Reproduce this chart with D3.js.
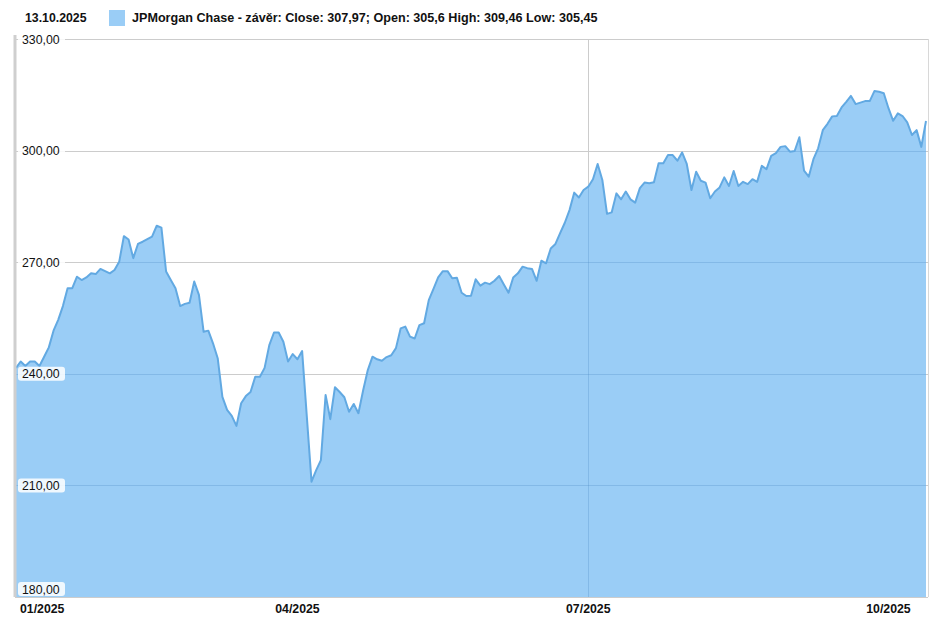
<!DOCTYPE html>
<html>
<head>
<meta charset="utf-8">
<script src="https://cdn.jsdelivr.net/npm/d3@7"></script>
<style>
  html, body { margin: 0; padding: 0; background: #fff; }
  svg { display: block; }
  text { font-family: Arial, "Liberation Sans", sans-serif; }
</style>
</head>
<body>
<svg id="chart" width="936" height="618"></svg>
<script>
// ---- data (JPMorgan Chase daily close, 2 Jan 2025 - 13 Oct 2025) ----
const closeValues = [
  241.6, 243.3, 242.1, 243.3, 243.3, 242.1, 244.6, 247.1, 251.6, 254.5,
  258.2, 263.0, 263.0, 266.1, 265.2, 265.9, 267.0, 266.8, 268.2, 267.6,
  267.0, 267.9, 270.1, 277.0, 276.1, 271.1, 274.9, 275.5, 276.2, 276.9,
  279.8, 279.3, 267.5, 265.2, 263.0, 258.2, 258.8, 259.1, 264.8, 261.2,
  251.3, 251.6, 248.2, 244.2, 233.8, 230.3, 228.7, 226.0, 232.1, 234.0,
  235.1, 239.2, 239.2, 241.6, 247.7, 251.1, 251.1, 248.6, 243.3, 245.3,
  243.9, 246.1, 228.5, 211.0, 214.1, 216.8, 234.3, 227.8, 236.4, 235.1,
  233.7, 229.8, 231.9, 229.4, 235.5, 241.0, 244.6, 243.9, 243.5, 244.5,
  245.0, 246.9, 252.2, 252.7, 250.0, 249.5, 253.1, 253.6, 259.8, 262.8,
  265.9, 267.6, 267.6, 265.7, 265.8, 261.8, 260.9, 261.0, 265.4, 263.7,
  264.5, 264.1, 265.0, 266.3, 264.0, 261.8, 265.9, 267.0, 268.8, 268.4,
  268.2, 265.0, 270.4, 269.7, 273.7, 274.9, 277.8, 280.6, 284.0, 288.7,
  287.4, 289.4, 290.3, 292.3, 296.4, 292.1, 283.0, 283.4, 288.5, 286.9,
  289.0, 286.9, 286.0, 289.9, 291.4, 291.2, 291.5, 296.6, 296.6, 298.8,
  298.8, 297.3, 299.5, 296.4, 289.4, 294.3, 291.9, 291.4, 287.2, 289.0,
  290.1, 292.8, 290.5, 294.5, 290.5, 291.6, 291.0, 292.3, 291.6, 295.9,
  295.0, 298.6, 299.3, 301.0, 301.2, 299.7, 299.9, 303.6, 294.6, 293.0,
  297.7, 300.6, 305.5, 307.2, 309.2, 309.3, 311.6, 313.1, 314.7, 312.5,
  312.9, 313.3, 313.3, 316.0, 315.8, 315.4, 311.4, 308.0, 310.0, 309.3,
  307.6, 304.2, 305.5, 301.0, 307.97
];
const yTickValues = [180, 210, 240, 270, 300, 330];
const xTickIndex  = [0, 60, 122, 186];            // first trading day of each quarter
const xTickLabels = ["01/2025", "04/2025", "07/2025", "10/2025"];
const xGridIndex  = [122];                          // vertical grid line (07/2025)
const headerDate  = "13.10.2025";
const legendText  = "JPMorgan Chase - závěr: Close: 307,97; Open: 305,6 High: 309,46 Low: 305,45";

// ---- layout ----
const svg = d3.select("#chart");
const pLeft = 15, pRight = 928, pTop = 39, pBottom = 597;
const x = d3.scaleLinear().domain([0, closeValues.length - 1]).range([16, 926]);
const y = d3.scaleLinear().domain([180, 330]).range([pBottom, pTop]);
const fmt = v => d3.format(".2f")(v).replace(".", ",");

const FILL = "#9acdf6", LINE = "#62a9e2";

const area = d3.area().x((d, i) => x(i)).y0(pBottom).y1(d => y(d));
const line = d3.line().x((d, i) => x(i)).y(d => y(d));

svg.append("defs").append("clipPath").attr("id", "areaClip")
  .append("path").datum(closeValues).attr("d", area);

function drawGrid(g, stroke, opacity) {
  g.selectAll("line.h").data(yTickValues).join("line").attr("class", "h")
    .attr("x1", pLeft).attr("x2", pRight)
    .attr("y1", d => Math.round(y(d)) + 0.5).attr("y2", d => Math.round(y(d)) + 0.5)
    .attr("stroke", stroke).attr("stroke-opacity", opacity).attr("stroke-width", 1);
  g.selectAll("line.v").data(xGridIndex).join("line").attr("class", "v")
    .attr("x1", d => Math.round(x(d)) + 0.5).attr("x2", d => Math.round(x(d)) + 0.5)
    .attr("y1", pTop).attr("y2", pBottom)
    .attr("stroke", stroke).attr("stroke-opacity", opacity).attr("stroke-width", 1);
}

// grid under the fill (grey on white)
drawGrid(svg.append("g"), "#cccccc", 1);

// area
svg.append("path").datum(closeValues).attr("d", area).attr("fill", FILL);

// grid seen through the fill (subtle blue)
drawGrid(svg.append("g").attr("clip-path", "url(#areaClip)"), "#4f8cc4", 0.3);

// line
svg.append("path").datum(closeValues).attr("d", line)
  .attr("fill", "none").attr("stroke", LINE).attr("stroke-width", 2)
  .attr("stroke-linejoin", "round");

// frame
svg.append("line").attr("x1", pLeft).attr("x2", pLeft).attr("y1", pTop - 4).attr("y2", pBottom)
  .attr("stroke", "#cfcfcf").attr("stroke-width", 3);
svg.append("line").attr("x1", pRight + 0.5).attr("x2", pRight + 0.5).attr("y1", pTop).attr("y2", pBottom)
  .attr("stroke", "#d8d8d8").attr("stroke-width", 1);

// y labels with white boxes
const yl = svg.append("g").selectAll("g").data(yTickValues).join("g")
  .attr("transform", d => `translate(18,${Math.min(y(d), pBottom - 8)})`);
yl.append("rect").attr("x", 0).attr("y", -7).attr("width", 47).attr("height", 14)
  .attr("rx", 3).attr("fill", "#fff").attr("fill-opacity", 0.85);
yl.append("text").attr("x", 4).attr("y", 4.5).attr("font-size", 12.3).attr("fill", "#111")
  .text(d => fmt(d));

// x labels
svg.append("g").selectAll("text").data(xTickIndex).join("text")
  .attr("x", (d, i) => i === 0 ? 20 : x(d))
  .attr("y", 613)
  .attr("text-anchor", (d, i) => i === 0 ? "start" : "middle")
  .attr("font-size", 12.3).attr("font-weight", "bold").attr("fill", "#111")
  .text((d, i) => xTickLabels[i]);

// header / legend
svg.append("text").attr("x", 25).attr("y", 22).attr("font-size", 12.3)
  .attr("font-weight", "bold").attr("fill", "#111").text(headerDate);
svg.append("rect").attr("x", 109).attr("y", 10).attr("width", 16).attr("height", 16)
  .attr("fill", FILL);
svg.append("text").attr("x", 132).attr("y", 22).attr("font-size", 12.6)
  .attr("font-weight", "bold").attr("fill", "#111").text(legendText);
</script>
</body>
</html>
